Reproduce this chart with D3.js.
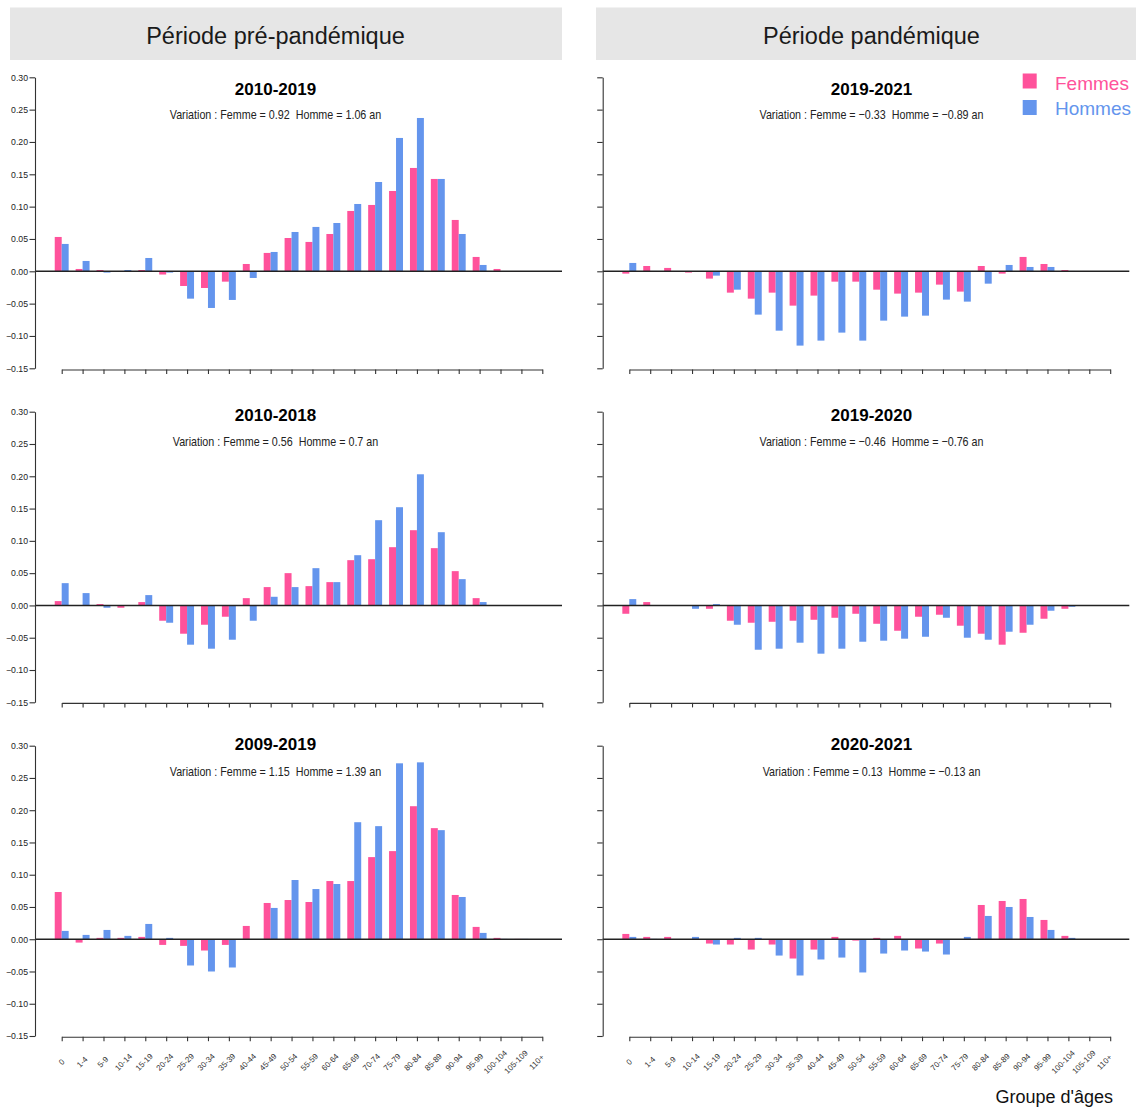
<!DOCTYPE html>
<html>
<head>
<meta charset="utf-8">
<script src="https://cdn.jsdelivr.net/npm/d3@7"></script>
<style>
  body { margin: 0; background: #fff; }
  svg { display: block; }
  text { font-family: "Liberation Sans", Arial, Helvetica, sans-serif; }
</style>
</head>
<body>
<svg id="chart" width="1136" height="1110"></svg>
<script>
// Age groups on the horizontal axis
const ageGroups = ["0", "1-4", "5-9", "10-14", "15-19", "20-24", "25-29", "30-34", "35-39",
  "40-44", "45-49", "50-54", "55-59", "60-64", "65-69", "70-74", "75-79", "80-84",
  "85-89", "90-94", "95-99", "100-104", "105-109", "110+"];

// Vertical axis ticks (contribution to the change in life expectancy, years)
const yTicks = [-0.15, -0.10, -0.05, 0.00, 0.05, 0.10, 0.15, 0.20, 0.25, 0.30];

// Contributions by age group — pre-pandemic period
const femmes_2010_2019 = [0.0531, 0.0036, 0.0020, 0.0005, 0.0020, -0.0050, -0.0227, -0.0258, -0.0160, 0.0113, 0.0284, 0.0515,
  0.0454, 0.0577, 0.0933, 0.1026, 0.1242, 0.1598, 0.1428, 0.0794, 0.0222, 0.0036, 0.0005, 0.0000];
const hommes_2010_2019 = [0.0423, 0.0160, -0.0020, 0.0020, 0.0206, -0.0020, -0.0423, -0.0567, -0.0443, -0.0103, 0.0299, 0.0608,
  0.0686, 0.0747, 0.1041, 0.1381, 0.2062, 0.2371, 0.1428, 0.0577, 0.0098, 0.0003, 0.0003, 0.0000];

const femmes_2010_2018 = [0.0067, 0.0005, 0.0021, -0.0036, 0.0052, -0.0237, -0.0438, -0.0299, -0.0175, 0.0113, 0.0284, 0.0500,
  0.0299, 0.0361, 0.0701, 0.0716, 0.0902, 0.1165, 0.0887, 0.0531, 0.0113, 0.0005, 0.0005, 0.0005];
const hommes_2010_2018 = [0.0345, 0.0191, -0.0036, -0.0005, 0.0160, -0.0268, -0.0608, -0.0670, -0.0531, -0.0237, 0.0134, 0.0284,
  0.0577, 0.0361, 0.0778, 0.1320, 0.1521, 0.2031, 0.1134, 0.0407, 0.0052, 0.0003, 0.0003, 0.0000];

const femmes_2009_2019 = [0.0732, -0.0052, 0.0021, 0.0021, 0.0036, -0.0088, -0.0103, -0.0175, -0.0088, 0.0206, 0.0562, 0.0608,
  0.0577, 0.0902, 0.0902, 0.1273, 0.1366, 0.2062, 0.1722, 0.0686, 0.0191, 0.0021, 0.0005, 0.0000];
const hommes_2009_2019 = [0.0129, 0.0067, 0.0144, 0.0052, 0.0237, 0.0021, -0.0407, -0.0500, -0.0438, 0.0000, 0.0485, 0.0918,
  0.0778, 0.0856, 0.1814, 0.1753, 0.2727, 0.2742, 0.1691, 0.0655, 0.0098, 0.0005, 0.0005, 0.0000];

// Contributions by age group — pandemic period
const femmes_2019_2021 = [-0.0036, 0.0082, 0.0052, -0.0020, -0.0113, -0.0330, -0.0423, -0.0330, -0.0531, -0.0376, -0.0160, -0.0160,
  -0.0284, -0.0345, -0.0330, -0.0206, -0.0314, 0.0082, -0.0036, 0.0222, 0.0113, 0.0020, 0.0005, 0.0003];
const hommes_2019_2021 = [0.0129, 0.0005, 0.0003, -0.0005, -0.0067, -0.0284, -0.0670, -0.0918, -0.1149, -0.1072, -0.0948, -0.1072,
  -0.0763, -0.0701, -0.0686, -0.0438, -0.0469, -0.0191, 0.0098, 0.0067, 0.0067, 0.0005, 0.0003, 0.0000];

const femmes_2019_2020 = [-0.0129, 0.0052, -0.0005, -0.0005, -0.0052, -0.0237, -0.0268, -0.0253, -0.0237, -0.0222, -0.0191, -0.0129,
  -0.0284, -0.0392, -0.0175, -0.0144, -0.0314, -0.0438, -0.0608, -0.0423, -0.0206, -0.0052, -0.0005, -0.0005];
const hommes_2019_2020 = [0.0098, -0.0005, -0.0005, -0.0052, 0.0021, -0.0299, -0.0686, -0.0670, -0.0577, -0.0747, -0.0670, -0.0562,
  -0.0546, -0.0515, -0.0485, -0.0191, -0.0500, -0.0531, -0.0407, -0.0299, -0.0082, -0.0021, -0.0003, 0.0000];

const femmes_2020_2021 = [0.0082, 0.0036, 0.0036, 0.0003, -0.0067, -0.0082, -0.0160, -0.0082, -0.0299, -0.0160, 0.0036, -0.0021,
  0.0021, 0.0052, -0.0144, -0.0067, 0.0003, 0.0531, 0.0593, 0.0624, 0.0299, 0.0052, 0.0003, 0.0003];
const hommes_2020_2021 = [0.0036, 0.0005, 0.0003, 0.0036, -0.0082, 0.0021, 0.0021, -0.0253, -0.0562, -0.0314, -0.0284, -0.0515,
  -0.0222, -0.0175, -0.0191, -0.0237, 0.0036, 0.0361, 0.0500, 0.0345, 0.0144, 0.0021, 0.0003, 0.0000];

// Panel titles and total change in life expectancy (years)
const periodTitles = ["2010-2019", "2010-2018", "2009-2019", "2019-2021", "2019-2020", "2020-2021"];
const variationFemme = [0.92, 0.56, 1.15, -0.33, -0.46, 0.13];
const variationHomme = [1.06, 0.7, 1.39, -0.89, -0.76, -0.13];
const columnHeaders = ["Période pré-pandémique", "Période pandémique"];
const legendLabels = ["Femmes", "Hommes"];

const femmesSeries = [femmes_2010_2019, femmes_2010_2018, femmes_2009_2019, femmes_2019_2021, femmes_2019_2020, femmes_2020_2021];
const hommesSeries = [hommes_2010_2019, hommes_2010_2018, hommes_2009_2019, hommes_2019_2021, hommes_2019_2020, hommes_2020_2021];

// ---- layout & style ----
const COL_F = "#FF529B";
const COL_H = "#6495ED";
const AXIS = "#333";

const columns = [
  { axisX: 35, first: 61.7, last: 542.3, lineEnd: 562, center: 275.5, box: [10, 562] },
  { axisX: 602.7, first: 629.3, last: 1110.2, lineEnd: 1129.3, center: 871.5, box: [596, 1136] }
];
const rows = [
  { top: 77.3, bottom: 368.3, xAxisY: 369.5, titleY: 95, subY: 119.3 },
  { top: 411.7, bottom: 702.3, xAxisY: 702.9, titleY: 421.3, subY: 445.7 },
  { top: 745.7, bottom: 1036, xAxisY: 1036.7, titleY: 749.7, subY: 775.8 }
];

const svg = d3.select("#chart");
const fmtMinus = v => String(v).replace("-", "\u2212");

// Column headers
columns.forEach((c, ci) => {
  svg.append("rect")
    .attr("x", c.box[0]).attr("y", 7.5)
    .attr("width", c.box[1] - c.box[0]).attr("height", 52.5)
    .attr("fill", "#e6e6e6");
  svg.append("text")
    .attr("x", c.center).attr("y", 43.5)
    .attr("text-anchor", "middle")
    .attr("font-size", 23.5)
    .attr("fill", "#1a1a1a")
    .text(columnHeaders[ci]);
});

// Panels
periodTitles.forEach((title, p) => {
  const c = columns[Math.floor(p / 3)];
  const r = rows[p % 3];
  const isLeft = p < 3;
  const isBottom = p % 3 === 2;

  const y = d3.scaleLinear().domain([-0.15, 0.30]).range([r.bottom, r.top]);
  const x = d3.scalePoint().domain(ageGroups).range([c.first, c.last]);
  const step = x.step();
  const xs = d3.scaleBand().domain(["F", "H"]).range([-step / 3, step / 3]).padding(0);

  const g = svg.append("g");

  // bars
  const data = ageGroups.map((a, i) => ({ age: a, F: femmesSeries[p][i], H: hommesSeries[p][i] }));
  const grp = g.append("g").selectAll("g").data(data).join("g")
    .attr("transform", d => `translate(${x(d.age)},0)`);
  grp.selectAll("rect")
    .data(d => [{ k: "F", v: d.F }, { k: "H", v: d.H }])
    .join("rect")
    .attr("x", d => xs(d.k))
    .attr("width", xs.bandwidth())
    .attr("y", d => y(Math.max(0, d.v)))
    .attr("height", d => Math.abs(y(d.v) - y(0)))
    .attr("fill", d => d.k === "F" ? COL_F : COL_H);

  // zero reference line
  g.append("line")
    .attr("x1", c.axisX).attr("x2", c.lineEnd)
    .attr("y1", y(0)).attr("y2", y(0))
    .attr("stroke", "#222").attr("stroke-width", 1.4);

  // y axis
  const yAxis = d3.axisLeft(y).tickValues(yTicks).tickSize(5.5).tickSizeOuter(0).tickPadding(1.5)
    .tickFormat(isLeft ? d3.format(".2f") : () => "");
  const gy = g.append("g").attr("transform", `translate(${c.axisX},0)`).call(yAxis);
  gy.attr("font-family", null).attr("font-size", 8.7);
  gy.selectAll("path,line").attr("stroke", AXIS).attr("stroke-width", 1.1);
  gy.selectAll("text").attr("fill", "#222");

  // x axis (tick marks only)
  const xAxis = d3.axisBottom(x).tickSize(4.5).tickSizeOuter(0).tickFormat(() => "");
  const gx = g.append("g").attr("transform", `translate(0,${r.xAxisY})`).call(xAxis);
  gx.selectAll("path,line").attr("stroke", AXIS).attr("stroke-width", 1.1);

  // rotated age labels under the bottom row
  if (isBottom) {
    const xl = d3.scalePoint().domain(ageGroups).range([c.first, c.last - 5.5]);
    g.append("g").selectAll("text").data(ageGroups).join("text")
      .attr("transform", d => `translate(${xl(d)},${r.xAxisY + 25.5}) rotate(-45)`)
      .attr("text-anchor", "middle")
      .attr("dominant-baseline", "central")
      .attr("font-size", 8)
      .attr("fill", "#333")
      .text(d => d);
  }

  // panel title and subtitle
  g.append("text")
    .attr("x", c.center).attr("y", r.titleY)
    .attr("text-anchor", "middle")
    .attr("font-size", 17).attr("font-weight", "bold")
    .attr("fill", "#000")
    .text(title);
  g.append("text")
    .attr("transform", `translate(${c.center},${r.subY}) scale(0.845,1)`)
    .attr("text-anchor", "middle")
    .attr("font-size", 12.7)
    .attr("fill", "#222")
    .style("white-space", "pre")
    .text(`Variation : Femme = ${fmtMinus(variationFemme[p])}  Homme = ${fmtMinus(variationHomme[p])} an`);
});

// legend
[COL_F, COL_H].forEach((col, i) => {
  svg.append("rect")
    .attr("x", 1022.7).attr("y", 73.5 + i * 26.5)
    .attr("width", 14).attr("height", 15)
    .attr("fill", col);
  svg.append("text")
    .attr("x", 1055).attr("y", 89.5 + i * 25.8)
    .attr("font-size", 19)
    .attr("fill", col)
    .text(legendLabels[i]);
});

// horizontal axis title
svg.append("text")
  .attr("x", 1113).attr("y", 1103)
  .attr("text-anchor", "end")
  .attr("font-size", 18)
  .attr("fill", "#111")
  .text("Groupe d'âges");
</script>
</body>
</html>
